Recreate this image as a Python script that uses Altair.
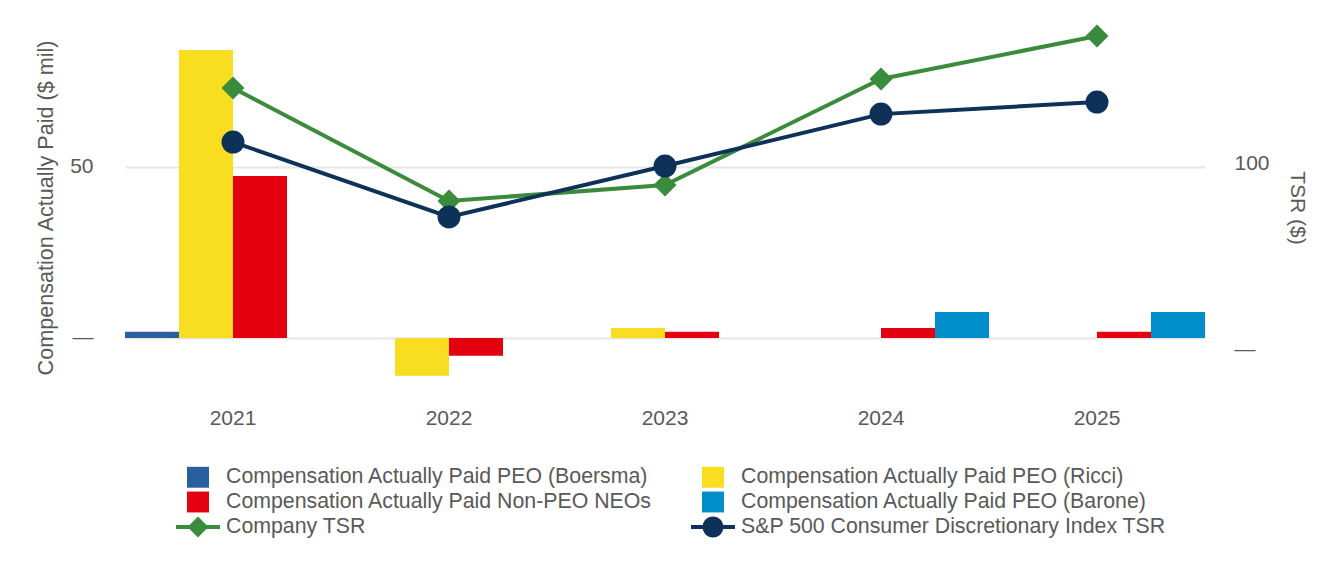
import altair as alt
import pandas as pd

years = ["2021", "2022", "2023", "2024", "2025"]

bar_series = [
    "Compensation Actually Paid PEO (Boersma)",
    "Compensation Actually Paid PEO (Ricci)",
    "Compensation Actually Paid Non-PEO NEOs",
    "Compensation Actually Paid PEO (Barone)",
]
boersma = [1.8, None, None, None, None]
ricci = [84.2, -11.1, 2.9, None, None]
non_peo = [47.4, -5.2, 1.8, 2.9, 1.8]
barone = [None, None, None, 7.6, 7.6]

line_series = ["Company TSR", "S&P 500 Consumer Discretionary Index TSR"]
company_tsr = [140.3, 79.6, 88.2, 145.2, 168.3]
sp_tsr = [111.3, 71.0, 98.4, 126.3, 132.8]

all_series = bar_series + line_series
colors = ["#2a5f9e", "#f9dd20", "#e3000f", "#008fcb", "#3a8b3c", "#0e3159"]

sq = "M-1,-0.95L1,-0.95L1,0.95L-1,0.95Z"
company_path = "M-2,-0.18L2,-0.18L2,0.18L-2,0.18Z M0,-0.95L0.95,0L0,0.95L-0.95,0Z"
sp_path = ("M-2,-0.18L2,-0.18L2,0.18L-2,0.18Z "
           "M0.95,0A0.95,0.95,0,1,1,-0.95,0A0.95,0.95,0,1,1,0.95,0Z")
shapes = [sq, sq, sq, sq, company_path, sp_path]

rows = []
for s, vals in zip(bar_series, [boersma, ricci, non_peo, barone]):
    for y, v in zip(years, vals):
        if v is not None:
            rows.append({"year": y, "series": s, "value": v})
bars_df = pd.DataFrame(rows)

lrows = []
for s, vals in zip(line_series, [company_tsr, sp_tsr]):
    for y, v in zip(years, vals):
        lrows.append({"year": y, "series": s, "tsr": v})
lines_df = pd.DataFrame(lrows)

FONT = "Liberation Sans"
GRAY = "#595959"

legend_def = alt.Legend(
    title=None, orient="none", legendX=62, legendY=446, columns=2,
    direction="horizontal",
    columnPadding=38, rowPadding=3, symbolSize=484, labelFontSize=21.3,
    labelLimit=800, labelOffset=17, labelColor=GRAY, labelFont=FONT,
    symbolStrokeWidth=0, padding=0,
)

color_scale = alt.Scale(domain=all_series, range=colors)

x_enc = alt.X(
    "year:N",
    scale=alt.Scale(domain=years, paddingInner=0, paddingOuter=0),
    axis=alt.Axis(title=None, labelAngle=0, domain=False, ticks=False,
                  labelPadding=12, labelFontSize=21, labelColor=GRAY,
                  labelFont=FONT, grid=False),
)

bars = alt.Chart(bars_df).mark_bar().encode(
    x=x_enc,
    xOffset=alt.XOffset("series:N", scale=alt.Scale(domain=bar_series, paddingInner=0, paddingOuter=0)),
    y=alt.Y(
        "value:Q",
        scale=alt.Scale(domain=[-16.7, 93.0], nice=False, zero=False),
        axis=alt.Axis(
            values=[0, 50], labelExpr="datum.value == 0 ? '—' : datum.label",
            title="Compensation Actually Paid ($ mil)", grid=True,
            gridColor="#e6e6e6", gridWidth=2, domain=False, ticks=False,
            labelPadding=32, titlePadding=12, labelFontSize=21, titleFontSize=21.6,
            labelColor=GRAY, titleColor=GRAY, titleFontWeight="normal",
            labelFont=FONT, titleFont=FONT,
        ),
    ),
    color=alt.Color("series:N", scale=color_scale, legend=legend_def),
)

y_right = alt.Y(
    "tsr:Q",
    scale=alt.Scale(domain=[-24.7, 176.9], nice=False, zero=False),
    axis=alt.Axis(
        orient="right", values=[0, 100],
        labelExpr="datum.value == 0 ? '—' : datum.label",
        title="TSR ($)", grid=False, domain=False, ticks=False,
        labelPadding=29, titlePadding=17, labelFontSize=21, titleFontSize=21,
        labelColor=GRAY, titleColor=GRAY, titleFontWeight="normal",
        labelFont=FONT, titleFont=FONT, labelAlign="left",
    ),
)

base = alt.Chart(lines_df)

lines = base.mark_line(strokeWidth=4).encode(
    x=x_enc, y=y_right,
    color=alt.Color("series:N", scale=color_scale, legend=None),
)

diamonds = base.transform_filter(alt.datum.series == line_series[0]).mark_point(
    shape="diamond", filled=True, size=529, opacity=1
).encode(
    x=x_enc, y=y_right,
    color=alt.Color("series:N", scale=color_scale, legend=None),
)

circles = base.transform_filter(alt.datum.series == line_series[1]).mark_circle(
    size=529, opacity=1
).encode(
    x=x_enc, y=y_right,
    color=alt.Color("series:N", scale=color_scale, legend=None),
)

legend_layer = base.transform_filter("false").mark_point(filled=True, opacity=1).encode(
    x=x_enc, y=y_right,
    color=alt.Color("series:N", scale=color_scale, legend=legend_def),
    shape=alt.Shape("series:N", scale=alt.Scale(domain=all_series, range=shapes), legend=legend_def),
)

right = alt.layer(lines, diamonds, circles, legend_layer)

chart = alt.layer(bars, right).resolve_scale(y="independent").properties(
    width=1080, height=375,
    padding={"left": 117, "top": 12, "right": 131, "bottom": 165},
    autosize=alt.AutoSizeParams(type="none"),
).configure(font=FONT).configure_view(strokeWidth=0, stroke="transparent")

chart.save("out.html", embed_options={"renderer": "svg", "actions": False})
